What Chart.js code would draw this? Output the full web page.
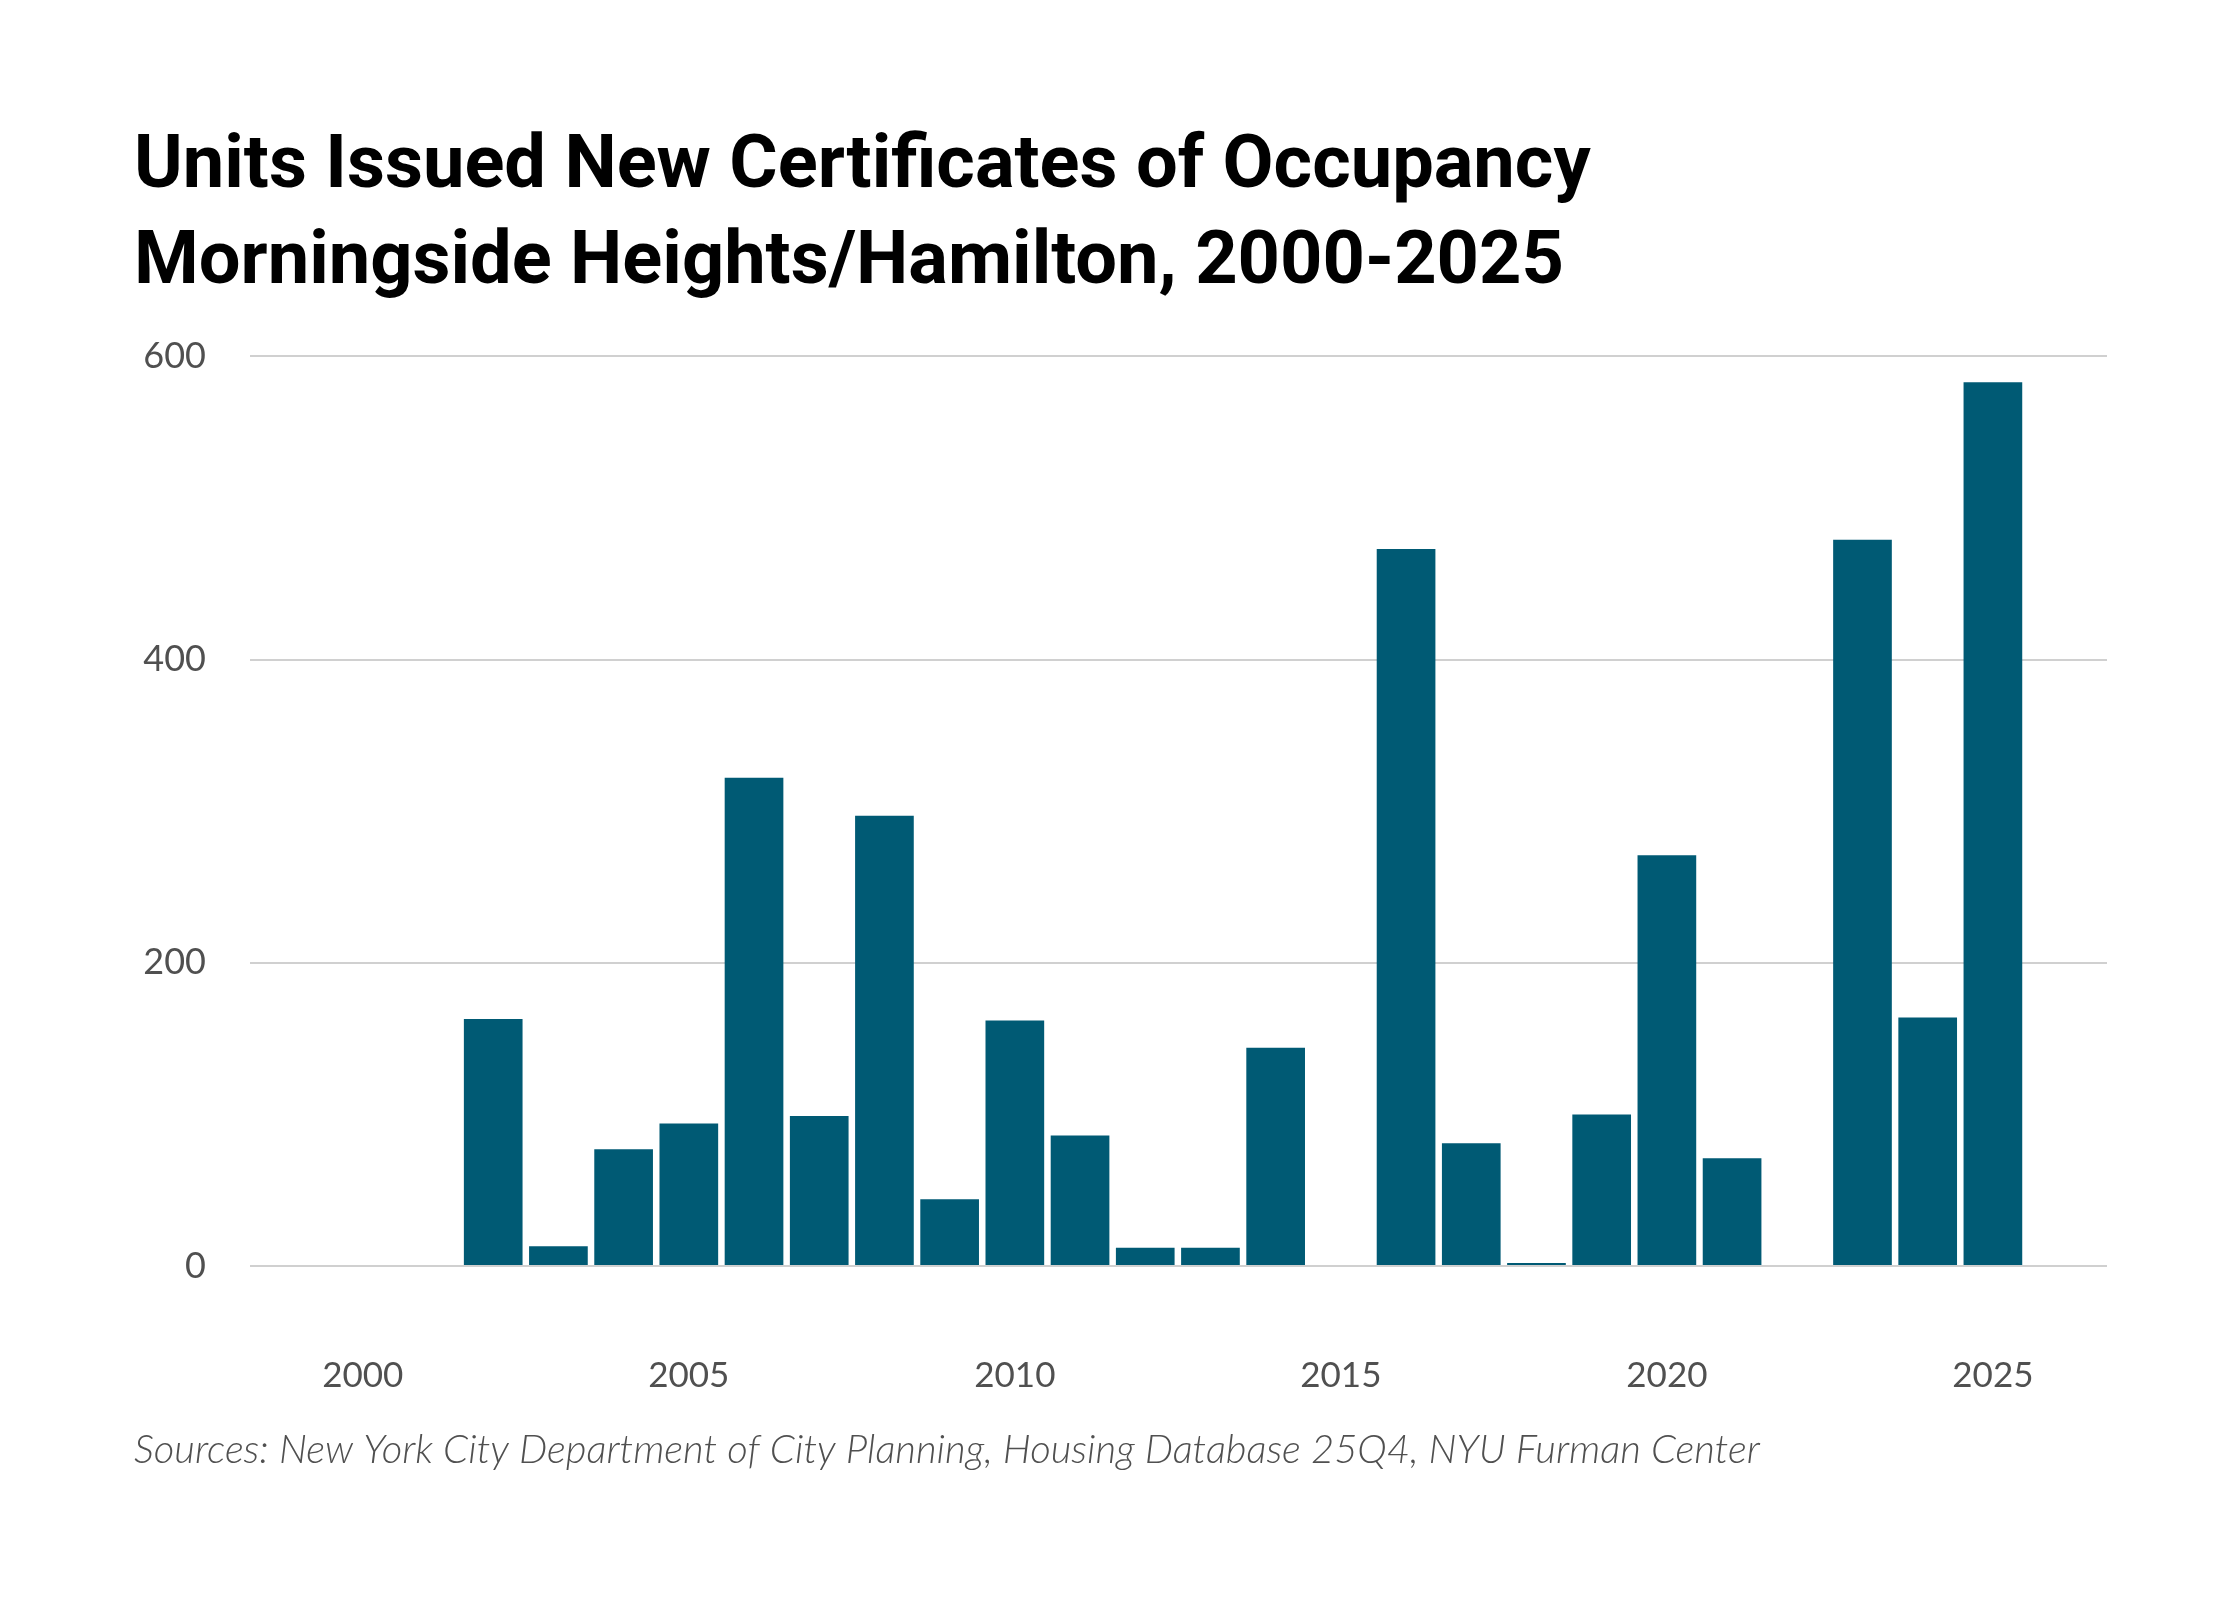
<!DOCTYPE html>
<html>
<head>
<meta charset="utf-8">
<script src="https://cdn.jsdelivr.net/npm/chart.js@4/dist/chart.umd.min.js"></script>
<style>
  html, body { margin: 0; padding: 0; background: #fff; }
  #wrap { width: 2240px; height: 1600px; }
</style>
</head>
<body>
<div id="wrap"><canvas id="unitsChart"></canvas></div>
<script>
// Chart data
const years = [2000, 2001, 2002, 2003, 2004, 2005, 2006, 2007, 2008, 2009, 2010, 2011, 2012,
  2013, 2014, 2015, 2016, 2017, 2018, 2019, 2020, 2021, 2022, 2023, 2024, 2025];
const units = [0, 0, 163, 13, 77, 94, 322, 99, 297, 44, 162, 86, 12,
  12, 144, 0, 473, 81, 2, 100, 271, 71, 0, 479, 164, 583];
const yearTicks = [2000, 2005, 2010, 2015, 2020, 2025];
const unitTicks = [0, 200, 400, 600];

const titleLines = [
  "Units Issued New Certificates of Occupancy",
  "Morningside Heights/Hamilton, 2000-2025",
];
const sourceText = "Sources: New York City Department of City Planning, Housing Database 25Q4, NYU Furman Center";

const barColor = "#005a74";
const gridColor = "#d0d0d0";
const labelColor = "#505050";

const ctx = document.getElementById("unitsChart").getContext("2d");
new Chart(ctx, {
  type: "bar",
  data: {
    datasets: [
      {
        label: "Units",
        data: years.map((y, i) => ({ x: y, y: units[i] })),
        backgroundColor: barColor,
        borderWidth: 0,
        barPercentage: 0.9,
        categoryPercentage: 1,
      },
    ],
  },
  options: {
    responsive: true,
    maintainAspectRatio: false,
    animation: false,
    devicePixelRatio: 1,
    layout: { padding: { top: 120, left: 134, right: 133, bottom: 126 } },
    plugins: {
      legend: { display: false },
      tooltip: { enabled: false },
      title: {
        display: true,
        text: titleLines,
        align: "start",
        color: "#000",
        font: { family: "Roboto", weight: "bold", size: 74, lineHeight: 1.3 },
        padding: { top: 0, bottom: 44 },
      },
      subtitle: {
        display: true,
        text: sourceText,
        position: "bottom",
        align: "start",
        color: labelColor,
        font: { family: "Lato", style: "italic", weight: 300, size: 40, lineHeight: 1.2 },
        padding: { top: 0, bottom: 0 },
      },
    },
    scales: {
      x: {
        type: "linear",
        min: 1998.27,
        max: 2026.75,
        offset: false,
        grid: { display: false },
        border: { display: false },
        afterBuildTicks: (axis) => {
          axis.ticks = yearTicks.map((v) => ({ value: v }));
        },
        afterFit: (axis) => {
          axis.height = 160;
        },
        ticks: {
          color: labelColor,
          font: { family: "Lato", size: 35 },
          padding: 81,
          maxRotation: 0,
          callback: (v) => String(v),
        },
      },
      y: {
        min: 0,
        max: 600,
        afterBuildTicks: (axis) => {
          axis.ticks = unitTicks.map((v) => ({ value: v }));
        },
        afterFit: (axis) => {
          axis.width = 116;
        },
        grid: { color: gridColor, lineWidth: 2, drawTicks: false },
        border: { display: false },
        ticks: {
          color: labelColor,
          font: { family: "Lato", size: 36 },
          padding: 44,
        },
      },
    },
  },
});
</script>
</body>
</html>
